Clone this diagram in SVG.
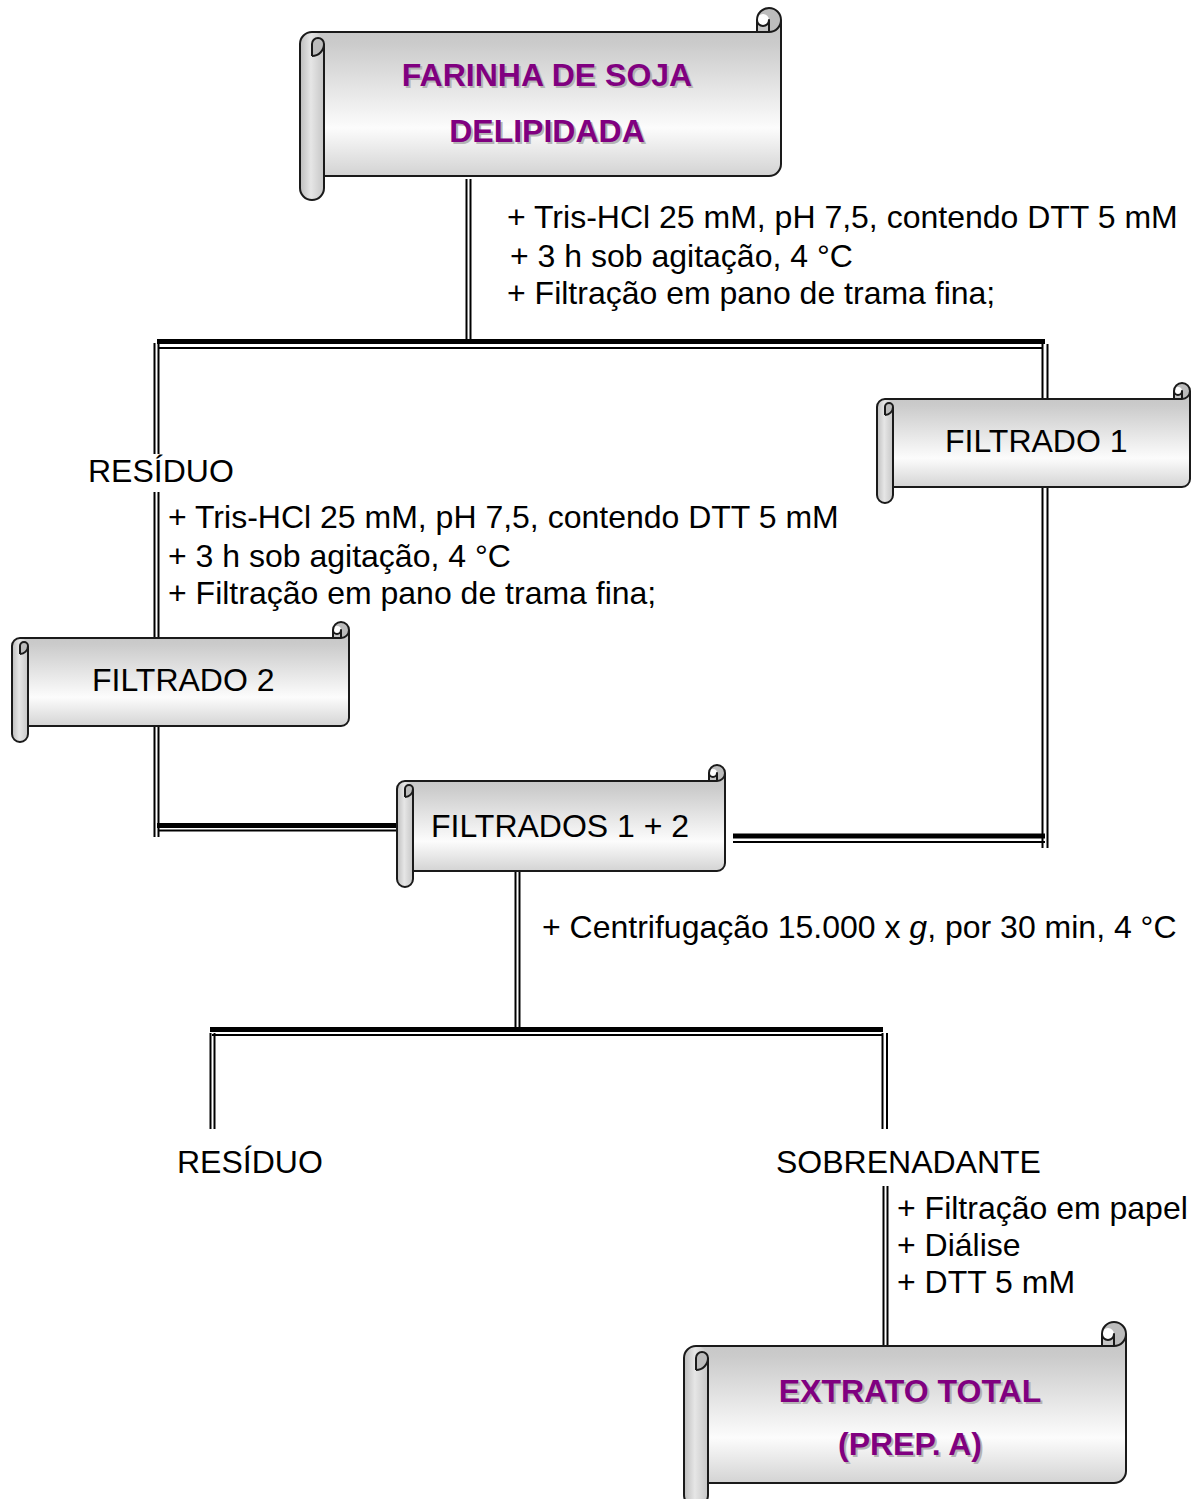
<svg xmlns="http://www.w3.org/2000/svg" width="1195" height="1499" viewBox="0 0 1195 1499">
<style>
.t{font-family:"Liberation Sans",Arial,sans-serif;font-size:32px;fill:#000}
.p{font-family:"Liberation Sans",Arial,sans-serif;font-size:32px;font-weight:bold;fill:#800080;text-anchor:middle}
.sh{font-family:"Liberation Sans",Arial,sans-serif;font-size:32px;font-weight:bold;fill:#b4b4b4;text-anchor:middle}
.body{fill:url(#gb);stroke:none}
.roll{fill:url(#gr);stroke:none}
.curl{fill:#bcbcbc;stroke:none}
.ol{fill:none;stroke:#1a1a1a;stroke-width:2;stroke-linejoin:round}
.k{stroke:#000;stroke-width:5;fill:none}
.n{stroke:#000;stroke-width:2;fill:none}
</style>
<defs>
<linearGradient id="gb" x1="0" y1="0" x2="0" y2="1">
<stop offset="0" stop-color="#c4c4c4"/>
<stop offset="0.13" stop-color="#cbcbcb"/>
<stop offset="0.6" stop-color="#fcfcfc"/>
<stop offset="0.87" stop-color="#d2d2d2"/>
<stop offset="1" stop-color="#c4c4c4"/>
</linearGradient>
<linearGradient id="gr" x1="0" y1="0" x2="1" y2="0">
<stop offset="0" stop-color="#bdbdbd"/>
<stop offset="0.45" stop-color="#e6e6e6"/>
<stop offset="1" stop-color="#c6c6c6"/>
</linearGradient>
</defs>
<rect width="1195" height="1499" fill="#fff"/>

<g id="connectors">
<line class="n" x1="466.5" y1="179" x2="466.5" y2="339"/>
<line class="n" x1="470.5" y1="179" x2="470.5" y2="339"/>
<line class="k" x1="157" y1="341.5" x2="1045" y2="341.5"/>
<line class="n" x1="159" y1="348" x2="1042" y2="348"/>
<line class="n" x1="154.5" y1="343" x2="154.5" y2="837"/>
<line class="n" x1="158.5" y1="343" x2="158.5" y2="837"/>
<line class="n" x1="1042.5" y1="344" x2="1042.5" y2="848"/>
<line class="n" x1="1047.5" y1="344" x2="1047.5" y2="848"/>
<line class="k" x1="157" y1="825.5" x2="397" y2="825.5"/>
<line class="n" x1="159" y1="830.5" x2="397" y2="830.5"/>
<line class="k" x1="733" y1="836" x2="1045" y2="836"/>
<line class="n" x1="733" y1="842" x2="1045" y2="842"/>
<line class="n" x1="515.5" y1="871" x2="515.5" y2="1030"/>
<line class="n" x1="519.5" y1="871" x2="519.5" y2="1030"/>
<line class="k" x1="210" y1="1029.5" x2="883" y2="1029.5"/>
<line class="n" x1="212" y1="1035" x2="883" y2="1035"/>
<line class="n" x1="210.5" y1="1033" x2="210.5" y2="1129"/>
<line class="n" x1="214.5" y1="1033" x2="214.5" y2="1129"/>
<line class="n" x1="882.5" y1="1033" x2="882.5" y2="1129"/>
<line class="n" x1="887" y1="1033" x2="887" y2="1129"/>
<line class="n" x1="883.5" y1="1186" x2="883.5" y2="1346"/>
<line class="n" x1="887.5" y1="1186" x2="887.5" y2="1346"/>
</g>

<g id="node-farinha">
<g transform="translate(300,8)">
<path class="body" d="M481,12 A12,12 0 0 1 469,24 L469,12 A6,6 0 0 1 457,12 L457,24 L12,24 A12,12 0 0 0 0,36 L0,180 A12,12 0 0 0 24,180 L24,168 L469,168 A12,12 0 0 0 481,156 Z"/>
<path class="roll" d="M0,36 A12,12 0 0 1 24,36 L24,180 A12,12 0 0 1 0,180 Z"/>
<path class="curl" d="M12,48 A12,12 0 0 0 24,36 A6,6 0 0 0 12,36 Z M469,24 A12,12 0 1 0 457,12 A6,6 0 0 1 469,12 Z"/>
<path class="ol" d="M0,36 A12,12 0 0 1 12,24 L457,24 L457,12 A12,12 0 0 1 481,12 L481,156 A12,12 0 0 1 469,168 L24,168 L24,180 A12,12 0 0 1 0,180 Z M457,24 L469,24 A12,12 0 0 0 481,12 M469,24 L469,12 A6,6 0 0 1 457,12 M12,48 L12,36 A6,6 0 0 1 24,36 A12,12 0 0 1 12,48 M24,36 L24,168"/>
</g>
<text class="sh" x="549" y="88">FARINHA DE SOJA</text>
<text class="p" x="547" y="86">FARINHA DE SOJA</text>
<text class="sh" x="549" y="144">DELIPIDADA</text>
<text class="p" x="547" y="142">DELIPIDADA</text>
</g>

<g id="note-1">
<text class="t" x="507" y="228">+ Tris-HCl 25 mM, pH 7,5, contendo DTT 5 mM</text>
<text class="t" x="510" y="267">+ 3 h sob agitação, 4 °C</text>
<text class="t" x="507" y="304">+ Filtração em pano de trama fina;</text>
</g>

<g id="node-filtrado1">
<g transform="translate(877,383)">
<path class="body" d="M313,8 A8,8 0 0 1 305,16 L305,8 A4,4 0 0 1 297,8 L297,16 L8,16 A8,8 0 0 0 0,24 L0,112 A8,8 0 0 0 16,112 L16,104 L305,104 A8,8 0 0 0 313,96 Z"/>
<path class="roll" d="M0,24 A8,8 0 0 1 16,24 L16,112 A8,8 0 0 1 0,112 Z"/>
<path class="curl" d="M8,32 A8,8 0 0 0 16,24 A4,4 0 0 0 8,24 Z M305,16 A8,8 0 1 0 297,8 A4,4 0 0 1 305,8 Z"/>
<path class="ol" d="M0,24 A8,8 0 0 1 8,16 L297,16 L297,8 A8,8 0 0 1 313,8 L313,96 A8,8 0 0 1 305,104 L16,104 L16,112 A8,8 0 0 1 0,112 Z M297,16 L305,16 A8,8 0 0 0 313,8 M305,16 L305,8 A4,4 0 0 1 297,8 M8,32 L8,24 A4,4 0 0 1 16,24 A8,8 0 0 1 8,32 M16,24 L16,104"/>
</g>
<text class="t" x="945" y="452">FILTRADO 1</text>
</g>

<g id="node-residuo1">
<rect x="84" y="454" width="154" height="38" fill="#fff"/>
<text class="t" x="88" y="482">RESÍDUO</text>
</g>

<g id="note-2">
<text class="t" x="168" y="528">+ Tris-HCl 25 mM, pH 7,5, contendo DTT 5 mM</text>
<text class="t" x="168" y="567">+ 3 h sob agitação, 4 °C</text>
<text class="t" x="168" y="604">+ Filtração em pano de trama fina;</text>
</g>

<g id="node-filtrado2">
<g transform="translate(12,622)">
<path class="body" d="M337,8 A8,8 0 0 1 329,16 L329,8 A4,4 0 0 1 321,8 L321,16 L8,16 A8,8 0 0 0 0,24 L0,112 A8,8 0 0 0 16,112 L16,104 L329,104 A8,8 0 0 0 337,96 Z"/>
<path class="roll" d="M0,24 A8,8 0 0 1 16,24 L16,112 A8,8 0 0 1 0,112 Z"/>
<path class="curl" d="M8,32 A8,8 0 0 0 16,24 A4,4 0 0 0 8,24 Z M329,16 A8,8 0 1 0 321,8 A4,4 0 0 1 329,8 Z"/>
<path class="ol" d="M0,24 A8,8 0 0 1 8,16 L321,16 L321,8 A8,8 0 0 1 337,8 L337,96 A8,8 0 0 1 329,104 L16,104 L16,112 A8,8 0 0 1 0,112 Z M321,16 L329,16 A8,8 0 0 0 337,8 M329,16 L329,8 A4,4 0 0 1 321,8 M8,32 L8,24 A4,4 0 0 1 16,24 A8,8 0 0 1 8,32 M16,24 L16,104"/>
</g>
<text class="t" x="92" y="691">FILTRADO 2</text>
</g>

<g id="node-filtrados12">
<g transform="translate(397,765)">
<path class="body" d="M328,8 A8,8 0 0 1 320,16 L320,8 A4,4 0 0 1 312,8 L312,16 L8,16 A8,8 0 0 0 0,24 L0,114 A8,8 0 0 0 16,114 L16,106 L320,106 A8,8 0 0 0 328,98 Z"/>
<path class="roll" d="M0,24 A8,8 0 0 1 16,24 L16,114 A8,8 0 0 1 0,114 Z"/>
<path class="curl" d="M8,32 A8,8 0 0 0 16,24 A4,4 0 0 0 8,24 Z M320,16 A8,8 0 1 0 312,8 A4,4 0 0 1 320,8 Z"/>
<path class="ol" d="M0,24 A8,8 0 0 1 8,16 L312,16 L312,8 A8,8 0 0 1 328,8 L328,98 A8,8 0 0 1 320,106 L16,106 L16,114 A8,8 0 0 1 0,114 Z M312,16 L320,16 A8,8 0 0 0 328,8 M320,16 L320,8 A4,4 0 0 1 312,8 M8,32 L8,24 A4,4 0 0 1 16,24 A8,8 0 0 1 8,32 M16,24 L16,106"/>
</g>
<text class="t" x="431" y="837">FILTRADOS 1 + 2</text>
</g>

<g id="note-3">
<text class="t" x="542" y="938">+ Centrifugação 15.000 x <tspan font-style="italic">g</tspan>, por 30 min, 4 °C</text>
</g>

<g id="node-residuo2">
<text class="t" x="177" y="1173">RESÍDUO</text>
</g>

<g id="node-sobrenadante">
<text class="t" x="776" y="1173">SOBRENADANTE</text>
</g>

<g id="note-4">
<text class="t" x="897" y="1219">+ Filtração em papel</text>
<text class="t" x="897" y="1256">+ Diálise</text>
<text class="t" x="897" y="1293">+ DTT 5 mM</text>
</g>

<g id="node-extrato">
<g transform="translate(684,1322)">
<path class="body" d="M442,12 A12,12 0 0 1 430,24 L430,12 A6,6 0 0 1 418,12 L418,24 L12,24 A12,12 0 0 0 0,36 L0,173 A12,12 0 0 0 24,173 L24,161 L430,161 A12,12 0 0 0 442,149 Z"/>
<path class="roll" d="M0,36 A12,12 0 0 1 24,36 L24,173 A12,12 0 0 1 0,173 Z"/>
<path class="curl" d="M12,48 A12,12 0 0 0 24,36 A6,6 0 0 0 12,36 Z M430,24 A12,12 0 1 0 418,12 A6,6 0 0 1 430,12 Z"/>
<path class="ol" d="M0,36 A12,12 0 0 1 12,24 L418,24 L418,12 A12,12 0 0 1 442,12 L442,149 A12,12 0 0 1 430,161 L24,161 L24,173 A12,12 0 0 1 0,173 Z M418,24 L430,24 A12,12 0 0 0 442,12 M430,24 L430,12 A6,6 0 0 1 418,12 M12,48 L12,36 A6,6 0 0 1 24,36 A12,12 0 0 1 12,48 M24,36 L24,161"/>
</g>
<text class="sh" x="912" y="1404">EXTRATO TOTAL</text>
<text class="p" x="910" y="1402">EXTRATO TOTAL</text>
<text class="sh" x="912" y="1457">(PREP. A)</text>
<text class="p" x="910" y="1455">(PREP. A)</text>
</g>
</svg>
